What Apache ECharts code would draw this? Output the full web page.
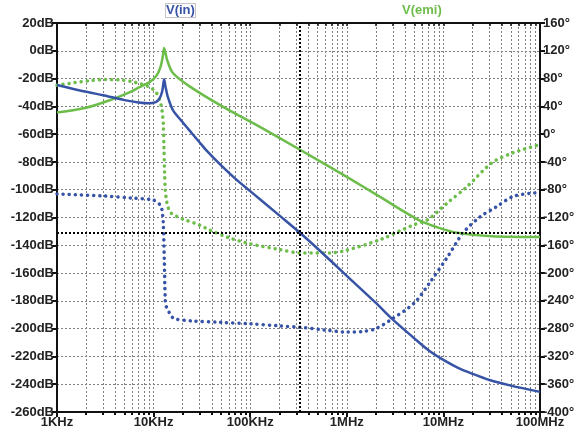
<!DOCTYPE html>
<html>
<head>
<meta charset="utf-8">
<script src="https://cdn.jsdelivr.net/npm/echarts@6/dist/echarts.min.js"></script>
<style>
  html, body { margin: 0; padding: 0; background: #fff; }
  #chart { width: 583px; height: 439px; }
</style>
</head>
<body>
<div id="chart"></div>
<script>
// frequency ticks (Hz)
var xTickValues = [1e3, 1e4, 1e5, 1e6, 1e7, 1e8];
var xTickLabels = ['1KHz', '10KHz', '100KHz', '1MHz', '10MHz', '100MHz'];
var xMinorValues = [];
for (var d = 3; d < 8; d++) {
    for (var k = 2; k <= 9; k++) xMinorValues.push(k * Math.pow(10, d));
}

// V(in) magnitude [Hz, dB]
var vinMag = [
    [1000, -24.6], [2000, -29.5], [3000, -32], [5000, -35.5], [7000, -37.2], [9000, -37.8],
    [10500, -37], [11500, -34.5], [12300, -29], [12850, -20.5], [13300, -26], [14000, -33],
    [15800, -42.5], [20000, -51.5], [25000, -59.5], [30000, -66], [35000, -71.5], [50000, -82.5],
    [70000, -92], [100000, -101], [200000, -118.5], [327000, -131], [500000, -142.5],
    [1000000, -162], [2000000, -181.5], [3000000, -193.5], [5000000, -207], [7000000, -215.5],
    [10000000, -222.5], [14000000, -228], [20000000, -232.5], [30000000, -237],
    [50000000, -241], [100000000, -245.5]
];
// V(emi) magnitude [Hz, dB]
var emiMag = [
    [1000, -44.5], [2000, -41], [3550, -35.5], [5620, -30], [7240, -26], [9120, -22.5],
    [10700, -18], [11750, -12], [12450, -4], [12850, 2], [13800, -6.6], [15850, -16],
    [24000, -26], [52500, -40.4], [126000, -54.8], [331000, -71.4], [1000000, -90.8],
    [2190000, -105], [5500000, -121.7], [9000000, -127.5], [13800000, -131], [31600000, -133.5],
    [100000000, -134]
];
// V(in) phase [Hz, deg]
var vinPhase = [
    [1000, -86], [3000, -89], [6000, -92], [10000, -95], [11700, -102], [12200, -109],
    [12600, -128], [12900, -180], [13200, -238], [13500, -248], [15500, -263], [16500, -266],
    [25000, -269], [50000, -271], [100000, -273], [200000, -276], [327000, -278],
    [600000, -282], [1000000, -285], [1500000, -284], [2000000, -280], [2800000, -268],
    [5000000, -243], [7200000, -214], [11000000, -177], [16000000, -142], [24000000, -119],
    [35000000, -105], [52000000, -90], [80000000, -85], [100000000, -84.5]
];
// V(emi) phase [Hz, deg]
var emiPhase = [
    [1000, 70.5], [1500, 74], [2200, 77], [3200, 78.5], [4500, 78], [6000, 75.5], [7500, 72],
    [9000, 68], [10500, 61], [11500, 50], [12200, 35], [12600, 15], [12800, -20], [13000, -55],
    [13200, -80], [13500, -92], [13900, -102], [14800, -112], [16600, -117], [20000, -122],
    [30000, -131], [38000, -138], [60000, -149], [100000, -158], [200000, -166], [330000, -171],
    [680000, -171], [1000000, -167], [2200000, -152], [4900000, -130.6], [6800000, -123.5],
    [11000000, -99], [17400000, -76], [32000000, -41], [52000000, -27], [100000000, -15]
];

// cursor position
var cursorFreq = 327000;
var cursorDb = -131;

var blue = '#3653a6';
var green = '#6cbd4a';
var font = 'Liberation Sans';

var chart = echarts.init(document.getElementById('chart'));

var gridLine = { show: true, lineStyle: { type: [2, 2], color: '#808080', width: 1 } };
var axisBlack = { show: true, onZero: false, lineStyle: { color: '#111', width: 2 } };
var lbl = { color: '#222', fontFamily: font, fontWeight: 'bold', fontSize: 13 };

option = {
    animation: false,
    title: [
        {
            text: 'V(in)', left: 165, top: 3,
            textStyle: { color: blue, fontFamily: font, fontWeight: 'bold', fontSize: 13 },
            borderColor: '#888', borderWidth: 1, borderType: 'dotted', padding: [1, 1]
        },
        {
            text: 'V(emi)', left: 401, top: 3, padding: [1, 1],
            textStyle: { color: green, fontFamily: font, fontWeight: 'bold', fontSize: 13 }
        }
    ],
    grid: { left: 57, right: 43, top: 23, bottom: 27 },
    xAxis: [
        {
            type: 'log', position: 'bottom', min: 1e3, max: 1e8,
            axisLine: axisBlack,
            axisTick: { show: true, length: 5, customValues: xTickValues, lineStyle: { color: '#111', width: 2 } },
            axisLabel: Object.assign({
                customValues: xTickValues, margin: 4,
                formatter: function (v) {
                    var i = xTickValues.indexOf(v);
                    return i >= 0 ? xTickLabels[i] : '';
                }
            }, lbl),
            splitLine: gridLine
        },
        {
            type: 'log', position: 'bottom', min: 1e3, max: 1e8,
            axisLine: { show: false, onZero: false },
            axisTick: { show: true, length: 3, customValues: xMinorValues, lineStyle: { color: '#111', width: 2 } },
            axisLabel: { show: false },
            splitLine: gridLine
        },
        {
            type: 'log', position: 'top', min: 1e3, max: 1e8,
            axisLine: axisBlack,
            axisTick: { show: true, inside: true, length: 3, customValues: xMinorValues.concat(xTickValues), lineStyle: { color: '#111', width: 1.5 } },
            axisLabel: { show: false },
            splitLine: { show: false }
        }
    ],
    yAxis: [
        {
            type: 'value', position: 'left', min: -260, max: 20, interval: 20,
            axisLine: axisBlack,
            axisTick: { show: true, length: 5, lineStyle: { color: '#111', width: 2 } },
            axisLabel: Object.assign({ formatter: '{value}dB', margin: 3 }, lbl),
            splitLine: gridLine
        },
        {
            type: 'value', position: 'right', min: -400, max: 160, interval: 40,
            axisLine: axisBlack,
            axisTick: { show: true, length: 5, lineStyle: { color: '#111', width: 2 } },
            axisLabel: Object.assign({ formatter: '{value}°', margin: 3 }, lbl),
            splitLine: { show: false }
        }
    ],
    series: [
        {
            name: 'V(emi) phase', type: 'line', yAxisIndex: 1, data: emiPhase,
            showSymbol: false, smooth: 0.3,
            lineStyle: { color: green, width: 3.5, type: [0.1, 6], cap: 'round' }
        },
        {
            name: 'V(in) phase', type: 'line', yAxisIndex: 1, data: vinPhase,
            showSymbol: false, smooth: 0.3,
            lineStyle: { color: blue, width: 3.5, type: [0.1, 6], cap: 'round' }
        },
        {
            name: 'V(emi)', type: 'line', yAxisIndex: 0, data: emiMag,
            showSymbol: false, smooth: 0.3,
            lineStyle: { color: green, width: 2.5 }
        },
        {
            name: 'V(in)', type: 'line', yAxisIndex: 0, data: vinMag,
            showSymbol: false, smooth: 0.3,
            lineStyle: { color: blue, width: 2.5 },
            markLine: {
                silent: true, symbol: 'none', label: { show: false },
                lineStyle: { color: '#000', width: 2, type: [2, 2] },
                data: [{ xAxis: cursorFreq }, { yAxis: cursorDb }]
            }
        }
    ]
};

chart.setOption(option);
</script>
</body>
</html>
